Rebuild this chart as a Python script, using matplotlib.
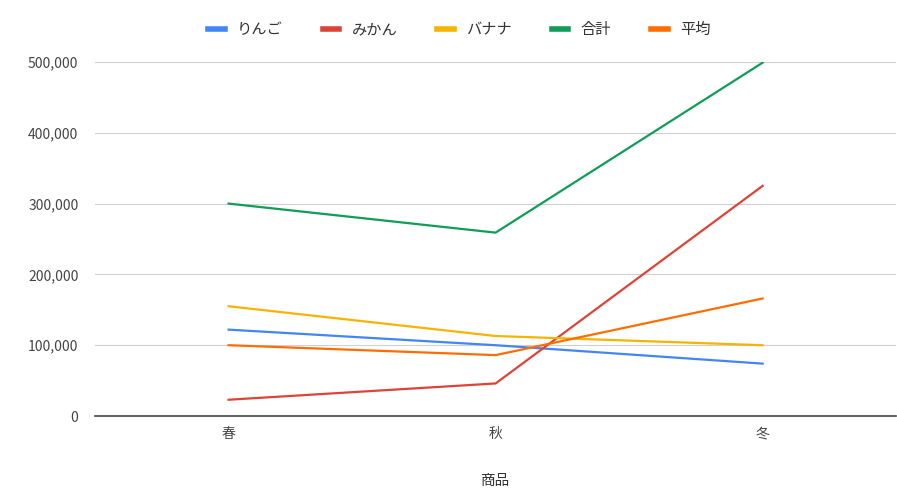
"""季節ごとの売上推移(折れ線)。"""

import matplotlib
matplotlib.use("Agg")
import matplotlib.pyplot as plt
from matplotlib.ticker import FuncFormatter

plt.rcParams["font.family"] = ["Noto Sans CJK JP", "DejaVu Sans"]

seasons = ["春", "秋", "冬"]
apple = [122000, 100000, 74000]
mikan = [23000, 46000, 325000]
banana = [155000, 113000, 100000]
total = [300000, 259000, 499000]
average = [100000, 86000, 166000]

series = [
    ("りんご", apple, "#4285F4"),
    ("みかん", mikan, "#DB4437"),
    ("バナナ", banana, "#F4B400"),
    ("合計", total, "#0F9D58"),
    ("平均", average, "#FF6D01"),
]

fig = plt.figure(figsize=(8.97, 4.88), dpi=100)
ax = fig.add_axes([0.106, 0.1475, 0.893, 0.7255])

x = range(len(seasons))
for name, vals, color in series:
    ax.plot(x, vals, color=color, linewidth=1.6, label=name)

ax.set_xlim(-0.5, 2.5)
ax.set_ylim(0, 500000)
ax.set_yticks(range(0, 500001, 100000))
ax.yaxis.set_major_formatter(FuncFormatter(lambda v, _: f"{int(v):,}"))
ax.set_xticks(list(x))
ax.set_xticklabels(seasons)
ax.grid(axis="y", color="#d0d0d0", linewidth=0.8)
ax.set_axisbelow(True)
for s in ["top", "right", "left"]:
    ax.spines[s].set_visible(False)
ax.spines["bottom"].set_color("#444444")
ax.spines["bottom"].set_linewidth(1.2)
ax.tick_params(axis="both", length=0, colors="#444444", labelsize=10)
ax.tick_params(axis="y", pad=12)
ax.tick_params(axis="x", pad=8)
ax.set_xlabel("商品", fontsize=10.5, color="#333333", labelpad=24)

fig.legend(loc="upper center", bbox_to_anchor=(0.512, 0.985), ncol=5, frameon=False,
           fontsize=11, handlelength=1.1, columnspacing=2.6, handletextpad=0.8,
           labelcolor="#333333")
for line in fig.legends[0].get_lines():
    line.set_linewidth(4)

fig.savefig("out.png", dpi=100)
plt.close(fig)
